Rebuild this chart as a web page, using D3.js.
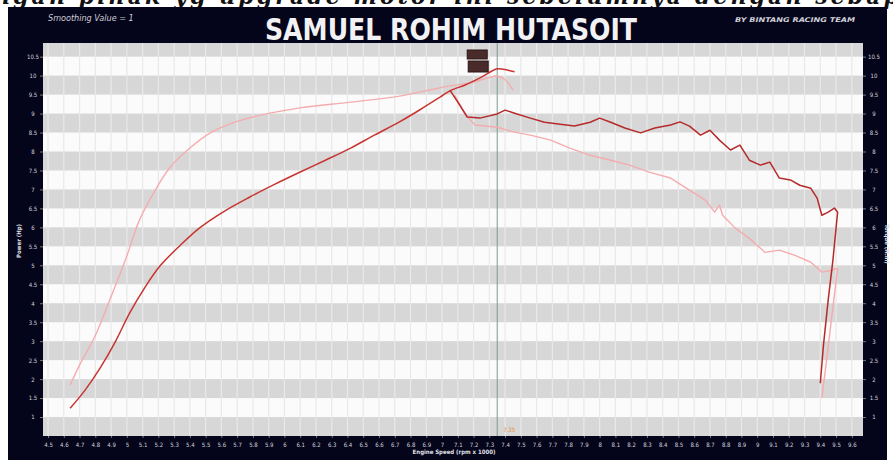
<!DOCTYPE html>
<html>
<head>
<meta charset="utf-8">
<script src="https://cdn.jsdelivr.net/npm/d3@7"></script>
<style>
  body { margin: 0; background: #fff; }
  svg { display: block; }
</style>
</head>
<body>
<div id="graph-area"></div>
<script>
// tick labels
var rpmLabels = ["4.5","4.6","4.7","4.8","4.9","5","5.1","5.2","5.3","5.4","5.5","5.6","5.7","5.8","5.9",
  "6","6.1","6.2","6.3","6.4","6.5","6.6","6.7","6.8","6.9","7","7.1","7.2","7.3","7.4","7.5","7.6",
  "7.7","7.8","7.9","8","8.1","8.2","8.3","8.4","8.5","8.6","8.7","8.8","8.9","9","9.1","9.2","9.3",
  "9.4","9.5","9.6"];
var valueLabels = ["1","1.5","2","2.5","3","3.5","4","4.5","5","5.5","6","6.5","7","7.5","8","8.5",
  "9","9.5","10","10.5"];
var bandStarts = [0.5,1.5,2.5,3.5,4.5,5.5,6.5,7.5,8.5,9.5,10.5];
var markerRpm = 7.35;

// [rpm x 1000, value]
var riseDark = [[4.64,1.23],[4.735,1.71],[4.83,2.29],[4.925,2.97],[5.02,3.76],[5.115,4.42],[5.21,4.98],
  [5.34,5.53],[5.46,5.98],[5.62,6.43],[5.78,6.80],[5.94,7.14],[6.10,7.46],[6.26,7.77],[6.42,8.09],
  [6.57,8.43],[6.73,8.78],[6.86,9.10],[6.99,9.44],[7.05,9.60],[7.15,9.76],[7.25,9.96],[7.35,10.18],
  [7.40,10.16],[7.46,10.10]];
var fallDark = [[7.05,9.62],[7.10,9.30],[7.16,8.91],[7.24,8.88],[7.35,8.99],[7.40,9.09],[7.46,9.01],
  [7.56,8.88],[7.65,8.77],[7.75,8.72],[7.84,8.67],[7.94,8.77],[8.00,8.88],[8.07,8.77],[8.16,8.62],
  [8.26,8.49],[8.35,8.62],[8.45,8.70],[8.51,8.78],[8.57,8.67],[8.64,8.43],[8.70,8.56],[8.76,8.30],
  [8.83,8.04],[8.89,8.17],[8.95,7.77],[9.02,7.64],[9.08,7.72],[9.14,7.30],[9.21,7.25],[9.27,7.11],
  [9.34,7.03],[9.38,6.77],[9.41,6.32],[9.45,6.40],[9.49,6.51],[9.51,6.40],[9.48,5.13],[9.45,4.08],
  [9.42,2.89],[9.40,1.89]];
var riseLight = [[4.64,1.84],[4.70,2.37],[4.80,3.15],[4.89,4.07],[4.99,5.13],[5.08,6.19],[5.18,6.98],
  [5.27,7.56],[5.40,8.09],[5.53,8.49],[5.69,8.78],[5.85,8.96],[6.10,9.15],[6.42,9.30],[6.73,9.46],
  [6.92,9.62],[7.05,9.73],[7.18,9.81],[7.29,9.94],[7.35,9.99],[7.40,9.89],[7.45,9.62]];
var fallLight = [[7.08,9.49],[7.15,8.96],[7.21,8.70],[7.35,8.64],[7.46,8.51],[7.56,8.43],[7.69,8.30],
  [7.81,8.09],[7.94,7.90],[8.07,7.77],[8.19,7.64],[8.32,7.45],[8.45,7.30],[8.57,6.98],[8.67,6.72],
  [8.73,6.40],[8.76,6.59],[8.78,6.32],[8.86,5.98],[8.95,5.71],[9.05,5.34],[9.14,5.40],[9.24,5.26],
  [9.34,5.08],[9.41,4.82],[9.47,4.87],[9.51,4.92],[9.47,3.55],[9.44,2.50],[9.41,1.50]];

var width = 893, height = 460;
var plot = {left: 43, right: 863, top: 43, bottom: 436};
var sans = "'Liberation Sans Narrow', 'DejaVu Sans Condensed', 'Liberation Sans', Arial, sans-serif";

var svg = d3.select('#graph-area').append('svg')
  .attr('width', width)
  .attr('height', height);

// cropped caption line above the screenshot
svg.append('text')
  .attr('x', -6).attr('y', 4)
  .attr('font-family', 'DejaVu Serif')
  .attr('font-style', 'italic')
  .attr('font-weight', 'bold')
  .attr('font-size', 22)
  .attr('textLength', 905)
  .attr('fill', '#111')
  .text('ngan pihak yg upgrade motor ini sebelumnya dengan sebap');

// dark frame
svg.append('rect')
  .attr('x', 8).attr('y', 7)
  .attr('width', 879).attr('height', 453)
  .attr('fill', '#04041a');

var x = d3.scaleLinear().domain([4.468, 9.671]).range([plot.left, plot.right]);
var y = d3.scaleLinear().domain([0.5, 10.86]).range([plot.bottom, plot.top]);

// plot background + bands
svg.append('rect')
  .attr('x', plot.left).attr('y', plot.top)
  .attr('width', plot.right - plot.left).attr('height', plot.bottom - plot.top)
  .attr('fill', '#fbfbfb');

svg.selectAll('.band')
  .data(bandStarts)
  .enter().append('rect')
  .attr('class', 'band')
  .attr('x', plot.left)
  .attr('width', plot.right - plot.left)
  .attr('y', function(d){ return Math.max(plot.top, y(d + 0.5)); })
  .attr('height', function(d){ return y(d) - Math.max(plot.top, y(d + 0.5)); })
  .attr('fill', '#d7d7d7');

// vertical grid at every label
svg.selectAll('.vgrid')
  .data(rpmLabels)
  .enter().append('line')
  .attr('x1', function(d){ return x(+d); })
  .attr('x2', function(d){ return x(+d); })
  .attr('y1', plot.top).attr('y2', plot.bottom)
  .attr('stroke', '#e9e9e9')
  .attr('stroke-width', 1.2);

// axes
var xAxis = d3.axisBottom(x)
  .tickValues(rpmLabels.map(Number))
  .tickFormat(function(d, i){ return rpmLabels[i]; })
  .tickSize(2);
var yLeft = d3.axisLeft(y)
  .tickValues(valueLabels.map(Number))
  .tickFormat(function(d, i){ return valueLabels[i]; })
  .tickSize(3);
var yRight = d3.axisRight(y)
  .tickValues(valueLabels.map(Number))
  .tickFormat(function(d, i){ return valueLabels[i]; })
  .tickSize(3);

function styleAxis(g){
  g.select('.domain').remove();
  g.selectAll('line').attr('stroke', '#777');
  g.selectAll('text')
    .attr('fill', '#d4d4dc')
    .attr('font-family', sans)
    .attr('font-size', 6);
}

svg.append('g').attr('transform', 'translate(0,' + plot.bottom + ')')
  .call(xAxis).call(styleAxis)
  .selectAll('text').attr('dy', '0.95em');
svg.append('g').attr('transform', 'translate(' + plot.left + ',0)')
  .call(yLeft).call(styleAxis)
  .selectAll('text').attr('text-anchor', 'middle').attr('x', -10);
svg.append('g').attr('transform', 'translate(' + plot.right + ',0)')
  .call(yRight).call(styleAxis)
  .selectAll('text').attr('text-anchor', 'middle').attr('x', 11);

// axis titles
svg.append('text')
  .attr('x', 454).attr('y', 454)
  .attr('text-anchor', 'middle')
  .attr('font-family', sans).attr('font-weight', 'bold')
  .attr('font-size', 6).attr('fill', '#e0e0e8')
  .text('Engine Speed (rpm x 1000)');
svg.append('text')
  .attr('transform', 'translate(21,241) rotate(-90)')
  .attr('text-anchor', 'middle')
  .attr('font-family', sans).attr('font-weight', 'bold')
  .attr('font-size', 6).attr('fill', '#e0e0e8')
  .text('Power (Hp)');
svg.append('text')
  .attr('transform', 'translate(885,244) rotate(90)')
  .attr('text-anchor', 'middle')
  .attr('font-family', sans).attr('font-weight', 'bold')
  .attr('font-size', 6).attr('fill', '#e0e0e8')
  .text('Torque (N.m)');

// header texts
svg.append('text')
  .attr('x', 451).attr('y', 40)
  .attr('text-anchor', 'middle')
  .attr('font-family', sans)
  .attr('font-weight', 'bold')
  .attr('font-size', 30)
  .attr('textLength', 372)
  .attr('lengthAdjust', 'spacingAndGlyphs')
  .attr('fill', '#f2f2f4')
  .text('SAMUEL ROHIM HUTASOIT');
svg.append('text')
  .attr('x', 48).attr('y', 21)
  .attr('font-family', sans)
  .attr('font-style', 'italic')
  .attr('font-size', 9)
  .attr('fill', '#d0d0d8')
  .text('Smoothing Value = 1');
svg.append('text')
  .attr('x', 855).attr('y', 22)
  .attr('text-anchor', 'end')
  .attr('font-family', sans)
  .attr('font-style', 'italic').attr('font-weight', 'bold')
  .attr('font-size', 6.5)
  .attr('textLength', 120)
  .attr('lengthAdjust', 'spacingAndGlyphs')
  .attr('fill', '#d0d0d8')
  .text('BY BINTANG RACING TEAM');

// marker line at peak rpm
svg.append('line')
  .attr('x1', x(markerRpm)).attr('x2', x(markerRpm))
  .attr('y1', plot.top).attr('y2', plot.bottom)
  .attr('stroke', '#7f9a8c').attr('stroke-width', 1);
svg.append('text')
  .attr('x', x(markerRpm) + 6).attr('y', 432)
  .attr('font-family', sans)
  .attr('font-size', 6).attr('fill', '#e8903a')
  .text(markerRpm);

// curves
var smooth = d3.line()
  .x(function(d){ return x(d[0]); })
  .y(function(d){ return y(d[1]); })
  .curve(d3.curveCatmullRom.alpha(0.5));
var rough = d3.line()
  .x(function(d){ return x(d[0]); })
  .y(function(d){ return y(d[1]); });

var curves = [
  {data: riseLight, line: smooth, color: '#f5acae', w: 1.4},
  {data: fallLight, line: rough, color: '#f5acae', w: 1.4},
  {data: riseDark, line: smooth, color: '#c8342f', w: 1.5},
  {data: fallDark, line: rough, color: '#b52a2a', w: 1.5}
];
svg.selectAll('.curve')
  .data(curves)
  .enter().append('path')
  .attr('class', 'curve')
  .attr('d', function(d){ return d.line(d.data); })
  .attr('fill', 'none')
  .attr('stroke', function(d){ return d.color; })
  .attr('stroke-width', function(d){ return d.w; })
  .attr('stroke-linejoin', 'round');

// value boxes near the peak
svg.selectAll('.tag')
  .data([[x(markerRpm) - 30, 50, 9], [x(markerRpm) - 29, 61, 11]])
  .enter().append('rect')
  .attr('x', function(d){ return d[0]; })
  .attr('y', function(d){ return d[1]; })
  .attr('width', 20)
  .attr('height', function(d){ return d[2]; })
  .attr('fill', '#4a2b2b')
  .attr('stroke', '#2a1616');
</script>
</body>
</html>
